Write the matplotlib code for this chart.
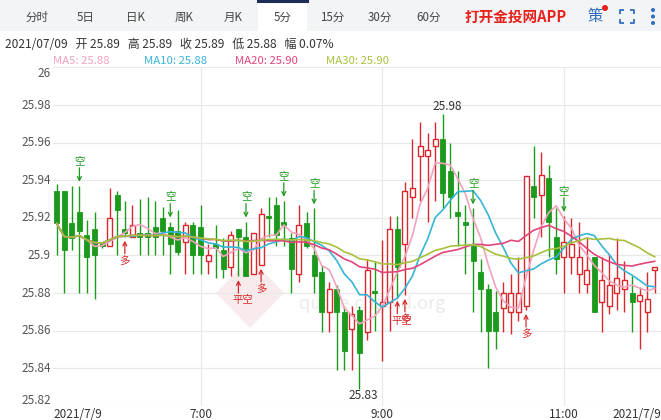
import matplotlib
matplotlib.use('Agg')
import matplotlib.pyplot as plt
import numpy as np
import pandas as pd
from matplotlib.patches import Rectangle, Polygon, Circle

plt.rcParams['font.family'] = ['Noto Sans CJK SC', 'DejaVu Sans']

# Świece 5-minutowe, 2021/07/09 od 05:25 do 12:00
otwarcie = [25.934, 25.934, 25.917, 25.923, 25.911, 25.914, 25.907, 25.905, 25.932, 25.914,
            25.910, 25.912, 25.912, 25.915, 25.920, 25.915, 25.913, 25.907, 25.916, 25.915,
            25.897, 25.906, 25.903, 25.894, 25.914, 25.910, 25.890, 25.895, 25.921, 25.927,
            25.918, 25.909, 25.890, 25.917, 25.900, 25.891, 25.870, 25.882, 25.870, 25.861,
            25.871, 25.859, 25.881, 25.873, 25.875, 25.914, 25.906, 25.931, 25.953, 25.953,
            25.958, 25.962, 25.945, 25.923, 25.918, 25.905, 25.891, 25.882, 25.870, 25.872,
            25.870, 25.870, 25.873, 25.937, 25.932, 25.941, 25.910, 25.899, 25.899, 25.890,
            25.885, 25.899, 25.875, 25.873, 25.880, 25.882, 25.880, 25.876, 25.870, 25.892]
maksimum = [25.938, 25.934, 25.937, 25.937, 25.919, 25.923, 25.907, 25.936, 25.934, 25.929,
            25.927, 25.930, 25.931, 25.929, 25.926, 25.918, 25.924, 25.918, 25.918, 25.927,
            25.906, 25.916, 25.909, 25.913, 25.914, 25.918, 25.912, 25.925, 25.931, 25.931,
            25.929, 25.912, 25.927, 25.923, 25.925, 25.895, 25.886, 25.884, 25.873, 25.873,
            25.873, 25.898, 25.897, 25.908, 25.921, 25.921, 25.939, 25.962, 25.971, 25.965,
            25.971, 25.975, 25.960, 25.945, 25.927, 25.925, 25.898, 25.885, 25.881, 25.886,
            25.890, 25.899, 25.942, 25.958, 25.955, 25.948, 25.925, 25.921, 25.920, 25.918,
            25.910, 25.899, 25.899, 25.901, 25.909, 25.897, 25.889, 25.883, 25.891, 25.894]
minimum = [25.900, 25.880, 25.903, 25.880, 25.880, 25.877, 25.904, 25.905, 25.900, 25.910,
           25.910, 25.900, 25.900, 25.900, 25.900, 25.890, 25.900, 25.890, 25.890, 25.890,
           25.890, 25.888, 25.888, 25.889, 25.889, 25.889, 25.890, 25.895, 25.910, 25.905,
           25.905, 25.880, 25.886, 25.904, 25.880, 25.859, 25.859, 25.839, 25.839, 25.839,
           25.829, 25.855, 25.860, 25.844, 25.860, 25.878, 25.879, 25.920, 25.929, 25.918,
           25.929, 25.925, 25.920, 25.905, 25.890, 25.870, 25.859, 25.840, 25.850, 25.859,
           25.858, 25.865, 25.871, 25.920, 25.910, 25.899, 25.890, 25.880, 25.890, 25.880,
           25.880, 25.870, 25.859, 25.869, 25.871, 25.870, 25.859, 25.850, 25.859, 25.880]
zamkniecie = [25.917, 25.903, 25.909, 25.913, 25.899, 25.900, 25.905, 25.920, 25.924, 25.912,
              25.916, 25.910, 25.910, 25.910, 25.913, 25.906, 25.902, 25.916, 25.900, 25.900,
              25.900, 25.904, 25.893, 25.911, 25.910, 25.889, 25.912, 25.922, 25.920, 25.911,
              25.916, 25.893, 25.916, 25.905, 25.889, 25.870, 25.882, 25.870, 25.849, 25.869,
              25.848, 25.892, 25.880, 25.875, 25.914, 25.894, 25.934, 25.936, 25.958, 25.956,
              25.962, 25.933, 25.931, 25.921, 25.916, 25.897, 25.882, 25.860, 25.860, 25.880,
              25.880, 25.880, 25.942, 25.931, 25.943, 25.918, 25.898, 25.907, 25.906, 25.899,
              25.892, 25.870, 25.887, 25.884, 25.888, 25.887, 25.875, 25.879, 25.877, 25.894]

# Sygnały nad i pod świecami (indeks świecy, tekst)
sygnaly_gora = [(3, '空'), (15, '空'), (25, '空'), (30, '空'), (34, '空'), (55, '空'), (67, '空')]
sygnaly_dol = [(9, '多'), (24, '平空'), (27, '多'), (45, '平空'), (46, '多'), (62, '多')]

# Opisy osi
poziomy_y = [25.82, 25.84, 25.86, 25.88, 25.90, 25.92, 25.94, 25.96, 25.98, 26.00]
pozycje_x = [0, 19, 43, 67, 79]
etykiety_x = ['2021/7/9', '7:00', '9:00', '11:00', '2021/7/9']
pionowe_linie = [19, 43, 67]

zakladki = ['分时', '5日', '日K', '周K', '月K', '5分', '15分', '30分', '60分']
info = '2021/07/09   开 25.89   高 25.89   收 25.89   低 25.88   幅 0.07%'

okresy_ma = [5, 10, 20, 30]
kolory_ma = ['#f2a3bd', '#36b5d6', '#e2457a', '#a7c13c']

czerwony = '#d8282c'
zielony = '#1c9a1c'
siatka = '#e9e9e9'

dane = pd.DataFrame({'o': otwarcie, 'h': maksimum, 'l': minimum, 'c': zamkniecie})
for n in okresy_ma:
    dane[f'ma{n}'] = dane['c'].rolling(n, min_periods=1).mean()

fig = plt.figure(figsize=(6.61, 4.2), dpi=100)

# Warstwa tła w pikselach (pasek zakładek, nagłówek, znak wodny)
tlo = fig.add_axes([0, 0, 1, 1], zorder=0)
tlo.set_xlim(0, 661)
tlo.set_ylim(420, 0)
tlo.axis('off')

tlo.add_patch(Rectangle((0, 0), 661, 31, facecolor='#f3f4f6', edgecolor='none'))
tlo.add_patch(Rectangle((258, 0), 49, 31, facecolor='white', edgecolor='none'))
tlo.plot([258, 307], [1, 1], color='#1e2f55', lw=2.2)
srodki_zakladek = [37, 86, 135, 184, 233, 283, 332, 380, 429]
for nazwa, xs in zip(zakladki, srodki_zakladek):
    tlo.text(xs, 17, nazwa, ha='center', va='center', fontsize=8.3, color='#444444')
tlo.text(516, 17, '打开金投网APP', ha='center', va='center', fontsize=10.5,
         color='#e8211d', fontweight='bold')
tlo.text(595, 17, '策', ha='center', va='center', fontsize=11, color='#2f6cc0')
tlo.add_patch(Circle((605, 8), 2.3, color='#e8211d'))
# ikona pełnego ekranu
niebieski = '#2f6cc0'
for (x0, y0, dx, dy) in [(620, 10, 1, 1), (634, 10, -1, 1), (620, 23, 1, -1), (634, 23, -1, -1)]:
    tlo.plot([x0, x0, x0 + 4 * dx], [y0 + 4 * dy, y0, y0], color=niebieski, lw=1.3,
             solid_capstyle='butt')
for yk in [10, 16.5, 23]:
    tlo.add_patch(Circle((653, yk), 1.3, color=niebieski))

tlo.text(5, 45, info, ha='left', va='center', fontsize=8.6, color='#333333')

# znak wodny
tlo.add_patch(Polygon([[250, 258], [284, 293], [250, 328], [216, 293]], closed=True,
                      facecolor='#f9ebeb', edgecolor='none'))
tlo.text(372, 304, 'quote.cngold.org', ha='center', va='center', fontsize=13, color='#eaeaea')

ax = fig.add_axes([53 / 661, 14.2 / 420, 608 / 661, 338.4 / 420], zorder=1)
ax.set_facecolor('none')
ax.set_xlim(-0.49, 79.83)
ax.set_ylim(25.82, 26.0)
for s in ax.spines.values():
    s.set_visible(False)
ax.set_xticks([])
ax.set_yticks([])

for p in poziomy_y:
    ax.axhline(p, color=siatka, lw=0.9, zorder=0)
for xv in pionowe_linie:
    ax.axvline(xv, color=siatka, lw=0.9, zorder=0)

# Opisy osi Y
for p in poziomy_y:
    tekst = ('%.2f' % p).rstrip('0').rstrip('.')
    dy = 0
    if p == poziomy_y[-1]:
        dy = -4.5
    if p == poziomy_y[0]:
        dy = 4
    ax.annotate(tekst, xy=(0, p), xycoords=('axes fraction', 'data'), xytext=(-1.5, dy),
                textcoords='offset points', ha='right', va='center', fontsize=8.5, color='#555555')

# Opisy osi X
for k, (xp, et) in enumerate(zip(pozycje_x, etykiety_x)):
    if k == 0:
        ax.annotate(et, xy=(0, 0), xycoords='axes fraction', xytext=(0, -6),
                    textcoords='offset points', ha='left', va='center', fontsize=8.5, color='#333333')
    elif k == len(pozycje_x) - 1:
        ax.annotate(et, xy=(1, 0), xycoords='axes fraction', xytext=(0, -6),
                    textcoords='offset points', ha='right', va='center', fontsize=8.5, color='#333333')
    else:
        ax.annotate(et, xy=(xp, 0), xycoords=('data', 'axes fraction'), xytext=(0, -6),
                    textcoords='offset points', ha='center', va='center', fontsize=8.5, color='#333333')

# Świece
szer = 0.66
for i, r in dane.iterrows():
    if r['c'] >= r['o']:
        ax.vlines(i, r['l'], r['h'], color=czerwony, lw=1, zorder=2)
        ax.add_patch(Rectangle((i - szer / 2, r['o']), szer, max(r['c'] - r['o'], 0.0006),
                               facecolor='white', edgecolor=czerwony, lw=1, zorder=3))
    else:
        ax.vlines(i, r['l'], r['h'], color=zielony, lw=1, zorder=2)
        ax.add_patch(Rectangle((i - szer / 2, r['c']), szer, max(r['o'] - r['c'], 0.0006),
                               facecolor=zielony, edgecolor=zielony, lw=0.6, zorder=3))

# Średnie kroczące
for n, kol in zip(okresy_ma, kolory_ma):
    ax.plot(dane.index, dane[f'ma{n}'], color=kol, lw=1.2, zorder=4)

# Legenda średnich
pozycje_ma = [53, 144, 235, 326]
for n, kol, xl in zip(okresy_ma, kolory_ma, pozycje_ma):
    tlo.text(xl, 61, f'MA{n}: {dane[f"ma{n}"].iloc[-1]:.2f}', ha='left', va='center',
             fontsize=8.2, color=kol)

# Sygnały
px = 0.18 / 338.4
for i, t in sygnaly_gora:
    h = dane['h'][i]
    ax.annotate('', xy=(i, h + 4 * px), xytext=(i, h + 18 * px),
                arrowprops=dict(arrowstyle='->', color=zielony, lw=0.9, mutation_scale=7,
                                shrinkA=0, shrinkB=0), zorder=5)
    ax.text(i, h + 25 * px, t, ha='center', va='center', fontsize=7.5, color=zielony, zorder=5)
for i, t in sygnaly_dol:
    l = dane['l'][i]
    ax.annotate('', xy=(i, l - 4 * px), xytext=(i, l - 17 * px),
                arrowprops=dict(arrowstyle='->', color=czerwony, lw=0.9, mutation_scale=7,
                                shrinkA=0, shrinkB=0), zorder=5)
    xt = i + 0.6 if len(t) > 1 else i
    ax.text(xt, l - 24 * px, t, ha='center', va='center', fontsize=7.5, color=czerwony, zorder=5)

# Maksimum i minimum
i_max = int(dane['h'].idxmax())
i_min = int(dane['l'].idxmin())
ax.annotate(f'{dane["h"][i_max]:.2f}', xy=(i_max, dane['h'][i_max]), xytext=(3, 6),
            textcoords='offset points', ha='center', va='center', fontsize=8.5, color='#333333', zorder=6)
ax.annotate(f'{dane["l"][i_min]:.2f}', xy=(i_min, dane['l'][i_min]), xytext=(3, -5),
            textcoords='offset points', ha='center', va='center', fontsize=8.5, color='#333333', zorder=6)

plt.savefig('out.png', dpi=100)
